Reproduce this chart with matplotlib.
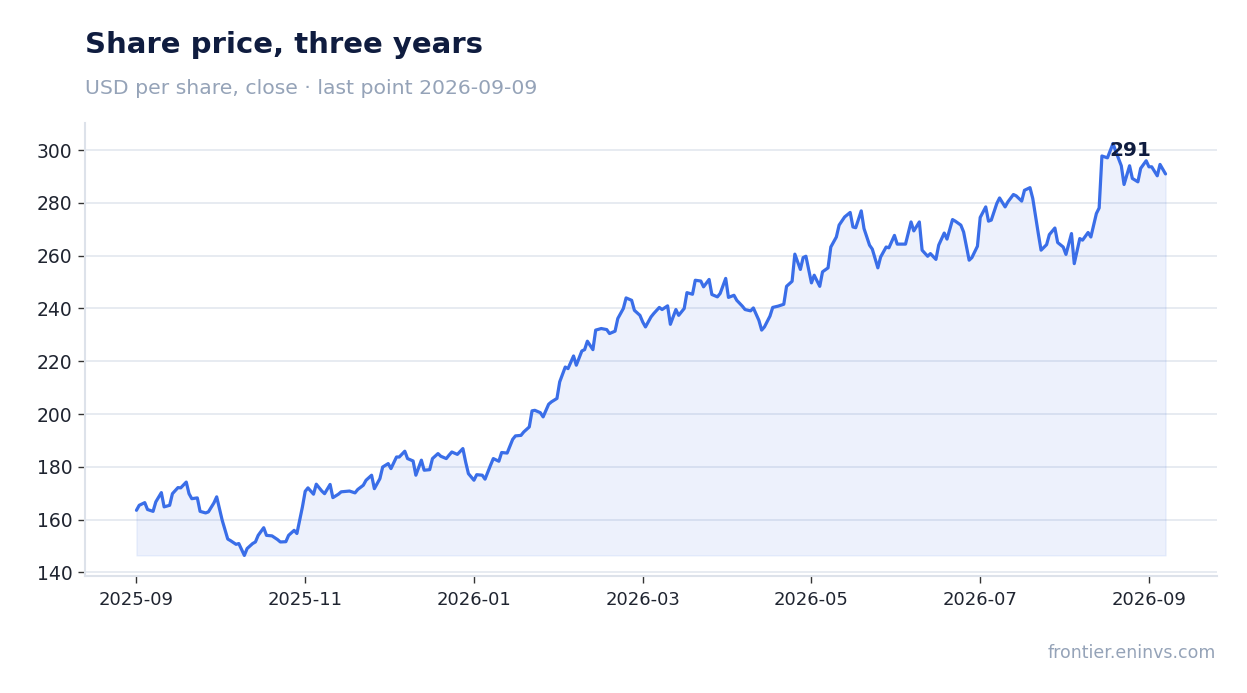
import datetime as dt
import matplotlib
matplotlib.use("Agg")
import matplotlib.pyplot as plt
import matplotlib.dates as mdates

# ---- data ----
start_date = "2025-09-01"
day_offsets = [
    0, 1, 3, 4, 6, 7, 9, 10, 12, 13, 15, 16, 18, 19, 20, 22, 23, 25, 26, 28,
    29, 31, 33, 34, 36, 37, 39, 40, 42, 43, 44, 46, 47, 49, 51, 52, 54, 55, 57, 58,
    60,
    61, 62, 64, 65, 67, 68, 70, 71, 73, 74, 76, 77, 79, 80, 82, 83, 85, 86, 88, 89,
    91, 92, 94, 95, 97, 98, 100, 101, 103, 104, 106, 107, 109, 110, 112, 113, 114, 116, 118, 119,
    120,
    122, 123, 125, 126, 128, 129, 131, 132, 134, 136, 137, 139, 140, 142, 143, 144, 146, 147, 149, 150,
    152, 153, 155, 156, 158, 159, 161, 162, 163, 165, 166, 168, 170, 171, 173, 174, 176, 177, 179, 180,
    182, 183, 184,
    186, 187, 189, 190, 192, 193, 195, 196, 198, 199, 201, 202, 204, 205, 207, 208, 210, 211, 213, 214,
    216, 217, 219, 220, 222, 223, 225, 226, 227, 229, 230, 232, 234, 235, 237, 238, 240, 241, 242, 244,
    245, 247,
    248, 250, 251, 253, 254, 256, 258, 259, 260, 262, 263, 265, 266, 268, 269, 271, 272, 274, 275, 277,
    278, 280, 281, 283, 284, 286, 287, 289, 290, 292, 293, 295, 296, 298, 299, 301, 302, 304, 305,
    307, 308, 309, 311, 312, 314, 315, 317, 318, 320, 321, 323, 324, 326, 327, 329, 330, 332, 333, 335,
    336, 338, 339, 341, 342, 344, 345, 347, 348, 349, 351, 353, 354, 356, 357, 359, 360, 362, 363, 365,
    366, 367, 369, 370, 372,
]
close_usd = [
    163.5, 165.4, 166.4, 163.8, 163.1, 166.7, 170.2, 164.8, 165.4, 169.8,
    172.1, 172.0, 174.2, 169.8, 167.9, 168.2, 163.1, 162.5, 162.9, 166.3,
    168.6, 159.7, 152.6, 152.0, 150.6, 150.9, 146.4, 149.0, 150.9, 151.5,
    154.0, 156.9, 154.0, 153.8, 152.4, 151.5, 151.6, 154.0, 155.9, 154.7,
    164.8,
    170.7, 172.0, 169.6, 173.4, 170.8, 169.8, 173.3, 168.3, 169.6, 170.5,
    170.7, 170.8, 170.1, 171.4, 173.0, 174.9, 176.8, 171.7, 175.5, 179.9,
    181.2, 179.3, 183.7, 183.7, 185.9, 183.1, 182.2, 176.8, 182.5, 178.7,
    178.9, 183.1, 185.0, 184.0, 183.1, 184.4, 185.6, 184.7, 186.9, 181.8,
    177.4,
    174.9, 177.0, 176.8, 175.3, 180.6, 183.1, 182.1, 185.4, 185.2, 190.4,
    191.7, 191.9, 193.2, 195.1, 201.2, 201.4, 200.5, 198.9, 203.7, 204.6,
    205.9, 212.2, 217.8, 217.2, 222.0, 218.5, 223.9, 224.4, 227.6, 224.4,
    231.8, 232.4, 232.0, 230.5, 231.4, 236.2, 240.0, 244.0, 243.1, 239.3,
    237.4, 234.9, 233.0,
    236.8, 238.1, 240.4, 239.6, 241.0, 234.0, 239.6, 237.4, 240.0, 246.0,
    245.4, 250.7, 250.4, 248.2, 251.0, 245.3, 244.4, 245.7, 251.4, 244.2,
    245.0, 243.1, 240.9, 239.6, 239.1, 240.2, 235.5, 231.8, 233.0, 237.1,
    240.4, 240.9, 241.6, 248.4, 250.3, 260.6, 254.8, 259.3, 259.8, 249.7,
    252.6, 248.4,
    253.9, 255.4, 263.3, 267.1, 271.6, 274.7, 276.4, 270.9, 270.6, 277.0,
    270.3, 264.0, 262.5, 255.4, 259.5, 263.3, 263.0, 267.7, 264.4, 264.4,
    264.4, 272.8, 269.4, 272.8, 262.1, 259.8, 260.8, 258.6, 264.0, 268.6,
    266.3, 273.7, 273.1, 271.6, 269.0, 258.3, 259.3, 263.6, 274.5,
    278.5, 273.1, 273.5, 279.8, 281.9, 278.5, 280.4, 283.2, 282.7, 280.7,
    284.8, 285.8, 281.7, 268.4, 262.1, 264.2, 268.0, 270.5, 265.0, 263.3,
    260.5, 268.4, 257.0, 266.5, 265.9, 268.8, 267.1, 276.0, 278.1, 297.8,
    297.1, 302.5, 299.6, 294.1, 287.0, 294.1, 289.3, 288.0, 293.1, 296.0,
    293.7, 293.7, 290.3, 294.6, 291.0,
]
y_ticks = [140, 160, 180, 200, 220, 240, 260, 280, 300]
x_tick_offsets = [0, 61, 122, 183, 244, 305, 366]   # ticks are evenly spaced in the reference
title_text = "Share price, three years"
subtitle_text = "USD per share, close \u00b7 last point 2026-09-09"
source_text = "frontier.eninvs.com"

# ---- build ----
base = dt.datetime.strptime(start_date, "%Y-%m-%d")
dates = [base + dt.timedelta(days=d) for d in day_offsets]
x_ticks = [base + dt.timedelta(days=d) for d in x_tick_offsets]

plt.rcParams["font.family"] = ["DejaVu Sans"]
W, H = 1247, 693
fig = plt.figure(figsize=(W / 100, H / 100), dpi=100)
fig.patch.set_facecolor("white")
ax = fig.add_axes([85 / W, 1 - 576 / H, (1217 - 85) / W, (576 - 123) / H])

line_color = "#3a6ee8"
ax.fill_between(dates, close_usd, min(close_usd), color=line_color, alpha=0.09,
                linewidth=1.0, zorder=2)
ax.plot(dates, close_usd, color=line_color, linewidth=2.3, zorder=3,
        solid_joinstyle="round", solid_capstyle="round")

ax.annotate(f"{close_usd[-1]:.0f}", xy=(dates[-1], close_usd[-1]),
            xytext=(-10, 10), textcoords="offset points", ha="right", va="bottom",
            fontsize=14.5, fontweight="bold", color="#0f1c3f", zorder=5)

ax.set_yticks(y_ticks)
ax.margins(x=0.05, y=0.05)
ax.set_xticks(x_ticks)
ax.xaxis.set_major_formatter(mdates.DateFormatter("%Y-%m"))

ax.grid(axis="y", color="#e3e7ef", linewidth=1.2, zorder=0)
ax.grid(axis="x", visible=False)
ax.set_axisbelow(True)
for s in ["top", "right"]:
    ax.spines[s].set_visible(False)
for s in ["left", "bottom"]:
    ax.spines[s].set_color("#dde2ea")
    ax.spines[s].set_linewidth(1.5)
ax.tick_params(axis="y", labelsize=13.5, colors="#333333", labelcolor="#1f2430",
               length=5, width=1, pad=4)
ax.tick_params(axis="x", labelsize=13, colors="#333333", labelcolor="#1f2430",
               length=5, width=1, pad=6)

fig.text(85 / W, 1 - 53 / H, title_text, fontsize=21, fontweight="bold",
         color="#0f1c3f", ha="left", va="baseline")
fig.text(85 / W, 1 - 94 / H, subtitle_text, fontsize=14.7, color="#95a3b8",
         ha="left", va="baseline")
fig.text(1216 / W, 1 - 658 / H, source_text, fontsize=12.5, color="#95a3b8",
         ha="right", va="baseline")

fig.savefig("out.png", dpi=100, facecolor="white")
